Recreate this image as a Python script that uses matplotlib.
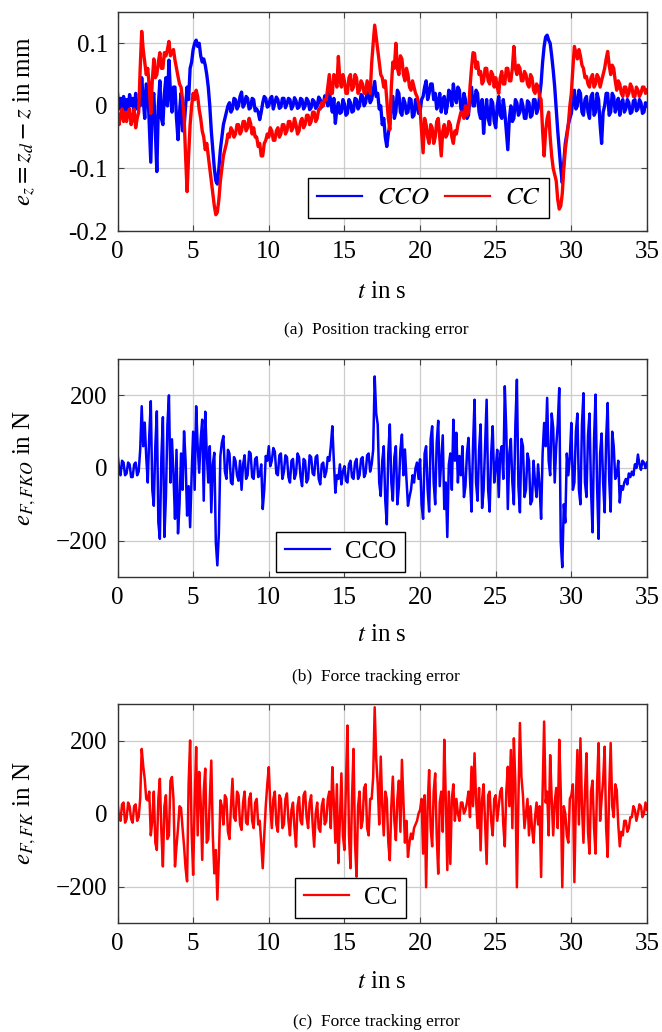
import numpy as np
import matplotlib
matplotlib.use("Agg")
import matplotlib.pyplot as plt

plt.rcParams['font.family'] = ['Liberation Serif', 'STIXGeneral', 'DejaVu Serif']
plt.rcParams['mathtext.fontset'] = 'stix'

#######################################
# sampled every 0.1 s (one row = one second), read off the original figure

# (a) position tracking error in mm
ez_cco = [0.02, -0.005, 0.012, -0.01, 0.015, -0.008, 0.01, -0.005, 0.018, 0.0,
          0.012, -0.008, 0.02, -0.005, 0.01, 0.0, 0.045, 0.01, -0.02, 0.035,
          0.03, -0.03, -0.09, 0.01, 0.02, -0.04, -0.105, 0.0, 0.04, -0.02,
          -0.03, 0.02, 0.045, 0.0, 0.073, 0.02, -0.01, 0.03, 0.03, -0.02,
          -0.054, -0.01, 0.02, -0.04, -0.035, 0.0, 0.03, 0.01, 0.06, 0.07,
          0.09, 0.1, 0.105, 0.095, 0.1, 0.08, 0.07, 0.075, 0.065, 0.05,
          0.03, 0.0, -0.04, -0.07, -0.1, -0.12, -0.125, -0.1, -0.07, -0.05,
          -0.03, -0.02, -0.01, 0.0, 0.005, -0.01, -0.005, 0.012, 0.01, -0.005,
          0.0, 0.015, 0.022, -0.002, 0.003, 0.015, 0.012, -0.005, -0.003, 0.012,
          0.01, -0.008, -0.005, -0.01, -0.022, -0.01, 0.005, 0.015, 0.012, -0.002,
          0.0, 0.012, 0.015, -0.005, 0.005, 0.014, 0.01, -0.004, -0.002, 0.012,
          0.012, -0.003, 0.003, 0.012, 0.01, -0.005, 0.0, 0.013, 0.008, -0.004,
          -0.002, 0.012, 0.01, -0.005, 0.0, 0.012, 0.008, -0.006, -0.003, 0.01,
          0.007, -0.004, 0.0, 0.014, 0.01, -0.002, 0.002, 0.016, 0.012, 0.0,
          0.025, 0.005, -0.01, 0.012, -0.028, -0.005, 0.005, -0.012, -0.01, 0.01,
          0.003, -0.015, -0.012, 0.01, 0.005, -0.01, -0.008, 0.012, 0.01, -0.005,
          0.0, 0.018, 0.015, 0.0, 0.005, 0.022, 0.02, 0.005, 0.01, 0.025,
          0.039, 0.015, 0.02, -0.005, 0.0, -0.03, -0.02, -0.05, -0.065, -0.045,
          -0.03, 0.01, 0.015, -0.02, -0.01, 0.025, 0.02, -0.01, -0.015, 0.012,
          0.005, -0.012, -0.01, 0.012, 0.01, -0.018, -0.015, 0.01, 0.0, -0.012,
          -0.01, 0.01, 0.015, 0.03, 0.04, 0.01, 0.02, 0.035, 0.035, 0.01,
          0.02, -0.005, 0.005, 0.02, -0.01, 0.01, 0.015, -0.012, 0.0, 0.025,
          0.02, 0.0, 0.035, 0.015, 0.005, 0.03, 0.025, -0.005, -0.01, 0.02,
          0.01, -0.02, -0.015, 0.015, 0.03, 0.0, 0.0, 0.025, 0.02, -0.01,
          -0.02, 0.01, -0.044, -0.01, 0.01, -0.02, -0.03, 0.01, 0.005, -0.025,
          -0.035, 0.0, 0.015, -0.015, -0.02, 0.01, -0.01, -0.04, -0.07, -0.02,
          0.0, -0.025, -0.02, 0.01, 0.005, -0.015, -0.01, 0.01, 0.0, -0.02,
          -0.02, 0.008, 0.005, -0.018, -0.015, 0.01, 0.01, -0.012, -0.005, 0.015,
          0.036, 0.07, 0.095, 0.11, 0.113, 0.105, 0.1, 0.08, 0.057, 0.03,
          -0.006, -0.04, -0.07, -0.1, -0.123, -0.09, -0.06, -0.045, -0.03, -0.02,
          -0.012, 0.01, 0.025, -0.005, 0.0, 0.025, 0.02, -0.01, -0.015, 0.01,
          0.015, -0.01, -0.02, 0.015, 0.02, -0.015, -0.01, 0.02, 0.01, -0.03,
          -0.06, -0.01, 0.0, 0.02, 0.02, -0.015, -0.01, 0.02, 0.015, -0.01,
          0.0, 0.012, -0.015, 0.005, 0.01, -0.01, -0.005, 0.01, 0.005, -0.012,
          -0.01, 0.008, 0.01, -0.008, -0.005, 0.01, 0.005, -0.012, -0.01, 0.005,
          0.0]

ez_cc = [-0.01, -0.03, -0.015, -0.005, -0.025, -0.01, -0.025, -0.01, -0.005, -0.03,
         -0.02, -0.005, -0.035, -0.02, -0.01, 0.06, 0.119, 0.09, 0.07, 0.05,
         0.06, 0.03, -0.012, 0.04, 0.075, 0.045, 0.05, 0.07, 0.085, 0.06,
         0.06, 0.085, 0.08, 0.09, 0.103, 0.08, 0.085, 0.09, 0.073, 0.06,
         0.047, 0.035, 0.03, 0.01, -0.017, -0.08, -0.137, -0.08, -0.03, 0.0,
         0.02, 0.01, 0.025, 0.015, -0.006, -0.02, -0.04, -0.05, -0.07, -0.06,
         -0.08, -0.1, -0.12, -0.14, -0.16, -0.174, -0.17, -0.15, -0.12, -0.1,
         -0.08, -0.07, -0.06, -0.045, -0.05, -0.035, -0.04, -0.05, -0.045, -0.03,
         -0.03, -0.045, -0.04, -0.025, -0.025, -0.04, -0.035, -0.02, -0.028, -0.045,
         -0.035, -0.05, -0.05, -0.065, -0.06, -0.08, -0.08, -0.06, -0.055, -0.045,
         -0.05, -0.035, -0.04, -0.055, -0.055, -0.04, -0.035, -0.05, -0.045, -0.03,
         -0.03, -0.045, -0.04, -0.025, -0.025, -0.04, -0.035, -0.02, -0.03, -0.045,
         -0.04, -0.025, -0.02, -0.035, -0.03, -0.015, -0.015, -0.03, -0.025, -0.01,
         -0.01, -0.025, -0.02, -0.005, -0.005, 0.005, 0.0, 0.01, 0.01, 0.03,
         0.05, 0.02, 0.02, 0.05, 0.045, 0.03, 0.079, 0.04, 0.03, 0.05,
         0.04, 0.02, 0.02, 0.045, 0.05, 0.025, 0.03, 0.05, 0.045, 0.02,
         0.025, 0.04, 0.035, 0.02, 0.02, 0.04, 0.03, 0.02, 0.068, 0.1,
         0.129, 0.11, 0.09, 0.07, 0.05, 0.045, 0.03, 0.04, 0.01, -0.02,
         -0.038, 0.03, 0.07, 0.06, 0.1, 0.06, 0.05, 0.08, 0.075, 0.05,
         0.04, 0.06, 0.05, 0.03, 0.025, 0.04, 0.03, 0.02, 0.015, 0.005,
         -0.006, -0.04, -0.075, -0.02, -0.03, -0.05, -0.06, -0.03, -0.035, -0.06,
         -0.05, -0.025, -0.02, -0.05, -0.08, -0.04, -0.03, -0.05, -0.045, -0.025,
         -0.03, -0.05, -0.06, -0.04, -0.045, -0.03, -0.02, -0.01, -0.01, -0.02,
         0.0, -0.015, -0.01, 0.03, 0.06, 0.085, 0.084, 0.06, 0.07, 0.05,
         0.055, 0.035, 0.04, 0.06, 0.06, 0.04, 0.035, 0.055, 0.05, 0.03,
         0.045, 0.03, 0.02, 0.045, 0.055, 0.035, 0.035, 0.06, 0.06, 0.04,
         0.04, 0.06, 0.095, 0.06, 0.05, 0.065, 0.06, 0.04, 0.04, 0.055,
         0.05, 0.035, 0.03, 0.05, 0.045, 0.025, 0.02, 0.035, 0.03, 0.015,
         0.01, -0.04, -0.08, -0.04, -0.02, -0.01, -0.05, -0.08, -0.1, -0.11,
         -0.12, -0.15, -0.165, -0.16, -0.14, -0.1, -0.07, -0.05, -0.03, 0.0,
         0.02, 0.06, 0.095, 0.085, 0.075, 0.09, 0.08, 0.065, 0.06, 0.045,
         0.047, 0.035, 0.03, 0.045, 0.05, 0.03, 0.035, 0.05, 0.045, 0.03,
         0.04, 0.05, 0.06, 0.075, 0.087, 0.065, 0.05, 0.065, 0.06, 0.04,
         0.025, 0.04, 0.035, 0.02, 0.015, 0.03, 0.03, 0.015, 0.02, 0.035,
         0.03, 0.015, 0.015, 0.03, 0.025, 0.015, 0.02, 0.03, 0.03, 0.02,
         0.025]

# (b) force tracking error CCO in N
ef_cco = [40, 0, -20, 20, 15, -20, -15, 15, 10, -25,
          -25, 10, 15, -20, -10, 50, 170, 60, 125, 30,
          -40, 90, 184, -60, -104, 60, 156, -150, -195, 30,
          140, -190, -80, 120, 200, -40, 79, -20, -140, 50,
          -180, -100, 40, -60, 101, 20, -131, -50, -163, -20,
          100, -60, 170, 60, -13, 80, 133, -90, 155, 40,
          -40, 60, -122, 10, 42, -205, -268, -180, 33, 70,
          88, -10, -30, 50, 40, -40, -45, 30, 20, -20,
          -35, 20, -60, 10, 35, -30, -20, 45, 40, -25,
          -30, 25, 30, -25, -20, 10, -113, -60, 33, 20,
          60, 5, 20, 55, 45, -15, -20, 35, 40, -30,
          -10, 35, 30, -25, -40, 20, 25, -30, -15, 40,
          30, -25, -50, 25, 20, -40, -30, 35, 30, -15,
          -20, 30, 35, -30, -45, 10, 15, -25, -10, 30,
          20, 60, 115, 20, -68, -20, -30, 10, -45, -10,
          5, -35, -40, 10, 20, -25, -30, 15, 25, -30,
          -20, 25, 30, -25, -15, 35, 40, -10, 10, 50,
          252, 150, 120, -40, -77, 20, 60, -90, -155, 40,
          120, -40, -90, 30, 60, -100, -50, 50, 92, -20,
          51, -30, -104, -80, -60, -20, -40, 0, 15, -30,
          24, -100, -140, 40, 60, -60, -120, 80, 115, -40,
          -100, 70, 130, -50, 20, 90, -113, -40, -190, 10,
          40, -60, 133, 20, 97, -40, 33, -20, 60, -80,
          -50, 40, 83, -30, -120, 60, 188, -40, -90, 50,
          120, -110, -60, 60, 188, -60, -120, 40, 115, -40,
          0, 50, -80, 40, 60, -30, 225, 100, -113, 40,
          80, -40, -100, 120, 243, -50, -122, 80, 60, -80,
          -60, 40, 20, -100, -90, 20, -40, -80, 10, -50,
          -140, 40, 124, 60, 193, 20, -20, 150, 110, -40,
          60, 120, 220, -205, -273, -100, -150, 40, -20, 30,
          124, -60, -40, 100, 150, -60, -100, 120, 206, -40,
          -80, 90, 150, -60, -177, 80, 202, -50, -195, 40,
          95, -40, -122, 80, 179, -30, -120, 100, 60, -30,
          -20, 20, -95, -50, -60, -40, -30, -45, -15, -25,
          -10, -20, 10, 0, 37, 10, -5, 20, 15, 0,
          15]

# (c) force tracking error CC in N
ef_cc = [30, -10, -20, 25, 30, -25, -15, 30, 20, -15,
         -25, 20, 25, -20, -10, 40, 177, 130, 95, 40,
         36, 60, -60, -20, 60, -80, -100, 40, 95, -50,
         -145, 20, 50, -70, -60, 90, 100, 40, -145, -90,
         -40, 20, 15, -40, -90, -150, -186, 80, 200, -50,
         -168, 30, 182, -60, 114, 30, -127, 60, 123, -80,
         -70, 40, 145, -60, -164, -100, -236, -120, 36, 20,
         -30, 50, 40, -50, -70, 20, 95, -10, -20, 60,
         50, -30, -45, 30, 60, -25, -30, 40, 55, -20,
         -40, 30, 40, -30, -20, -80, -150, -60, 20, 80,
         127, 20, -40, 40, 60, -30, -50, 50, 40, -40,
         -30, 40, 55, -20, -60, 10, 30, -40, -91, 20,
         45, -20, -30, 50, 60, -10, -40, 30, 50, -30,
         -91, 0, 30, -40, -50, 20, 40, -30, -20, 40,
         60, -40, 127, 30, -80, 80, -136, -20, 110, -60,
         -100, 80, 241, -60, -150, 40, 177, -80, -173, 20,
         60, -40, -20, 70, 80, -40, -60, 40, 40, 100,
         291, 150, 80, -30, 156, 20, -60, 60, 40, -80,
         -128, 20, 101, -20, -73, 40, 90, -50, 147, 30,
         -80, -20, -119, -80, -55, -70, -40, -30, -20, 0,
         10, 40, -110, 50, -202, 20, 119, -40, -90, 60,
         110, -60, -165, 30, 60, -50, 202, 40, -155, 60,
         -138, 40, 80, -20, 40, 0, -20, 30, 30, 0,
         10, 30, 60, -10, 128, 20, 165, 40, -40, 70,
         -101, 40, 80, -30, -138, 50, 60, -20, -60, 40,
         50, -20, 20, 60, 70, -30, -90, 60, 128, 20,
         174, -40, 206, 80, -202, 40, 248, 100, 50, -40,
         0, 40, -60, 20, -40, -80, -10, 30, -30, 20,
         -174, 60, 252, 30, 60, -60, 160, 40, -60, 30,
         70, -40, 202, 60, -202, 20, 0, -60, -80, 40,
         50, 80, -188, 40, 174, -30, 206, 20, -80, 60,
         165, -50, -110, 60, 90, -40, -110, 80, 193, -20,
         40, 90, 183, -40, -119, 60, 193, 20, -10, 80,
         64, -30, -90, -50, -60, -20, -20, -50, -40, -10,
         -10, 20, 10, -20, 0, 25, 20, -10, 0, 30,
         10]

dt = 0.1
xticks = [0, 5, 10, 15, 20, 25, 30, 35]
pos_yticks = [-0.2, -0.1, 0, 0.1]
pos_ylabels = ['-0.2', '-0.1', '0', '0.1']
force_yticks = [-200, 0, 200]
force_ylabels = ['\u2212200', '0', '200']
captions = ['(a)  Position tracking error', '(b)  Force tracking error', '(c)  Force tracking error']

#######################################

FS = 18


def style_axis(ax, ylim, yticks, ylabels):
    ax.set_xlim(0, 35)
    ax.set_ylim(*ylim)
    ax.set_xticks(xticks)
    ax.set_yticks(yticks, ylabels)
    ax.grid(True, color='#cccccc', lw=0.9)
    ax.set_axisbelow(True)
    ax.tick_params(direction='in', top=True, right=True, length=4, width=0.8,
                   color='#444444', labelsize=FS)
    ax.tick_params(axis='x', pad=7)
    ax.tick_params(axis='y', pad=7)
    for s in ax.spines.values():
        s.set_color('#333333')
        s.set_linewidth(1.0)
    ax.set_xlabel('$t$ in s', fontsize=FS)
    ax.xaxis.label.set_verticalalignment('center')


fig = plt.figure(figsize=(6.62, 10.32), dpi=100)
L, W = 117.5 / 662, 529.5 / 662
ax1 = fig.add_axes([L, 1 - 231 / 1032, W, 219 / 1032])
ax2 = fig.add_axes([L, 1 - 577 / 1032, W, 218 / 1032])
ax3 = fig.add_axes([L, 1 - 923 / 1032, W, 219 / 1032])

t = np.arange(len(ez_cco)) * dt
ax1.plot(t, ez_cco, color='#0000ff', lw=2.4, label='$CCO$')
t = np.arange(len(ez_cc)) * dt
ax1.plot(t, ez_cc, color='#ff0000', lw=2.4, label='$CC$')
style_axis(ax1, (-0.2, 0.15), pos_yticks, pos_ylabels)
ax1.set_ylabel('$e_z = z_d - z$ in mm', fontsize=FS)
ax1.yaxis.set_label_coords(-0.15, 0.5)
ax1.xaxis.set_label_coords(0.5, -0.28)

t = np.arange(len(ef_cco)) * dt
ax2.plot(t, ef_cco, color='#0000ff', lw=1.8, label='CCO')
style_axis(ax2, (-300, 300), force_yticks, force_ylabels)
ax2.set_ylabel('$e_{F,FKO}$ in N', fontsize=FS)
ax2.yaxis.set_label_coords(-0.15, 0.5)
ax2.xaxis.set_label_coords(0.5, -0.266)

t = np.arange(len(ef_cc)) * dt
ax3.plot(t, ef_cc, color='#ff0000', lw=1.8, label='CC')
style_axis(ax3, (-300, 300), force_yticks, force_ylabels)
ax3.set_ylabel('$e_{F,FK}$ in N', fontsize=FS)
ax3.yaxis.set_label_coords(-0.15, 0.5)
ax3.xaxis.set_label_coords(0.5, -0.268)

leg_kw = dict(fontsize=FS, frameon=True, fancybox=False, framealpha=1,
              edgecolor='black', handlelength=1.8, handletextpad=0.6,
              borderpad=0.35, columnspacing=0.6, loc='lower left', borderaxespad=0)
l1 = ax1.legend(ncol=2, bbox_to_anchor=(0.36, 0.059), **leg_kw)
l2 = ax2.legend(bbox_to_anchor=(0.299, 0.023), **leg_kw)
l3 = ax3.legend(bbox_to_anchor=(0.335, 0.023), **leg_kw)
for lg in (l1, l2, l3):
    lg.get_frame().set_linewidth(1.0)
    for ln in lg.get_lines():
        ln.set_linewidth(1.6)

for cap, y in zip(captions, [1 - 330 / 1032, 1 - 677 / 1032, 1 - 1022 / 1032]):
    fig.text(376 / 662, y, cap, ha='center', va='center', fontsize=12.5)

fig.savefig('out.png', dpi=100)
